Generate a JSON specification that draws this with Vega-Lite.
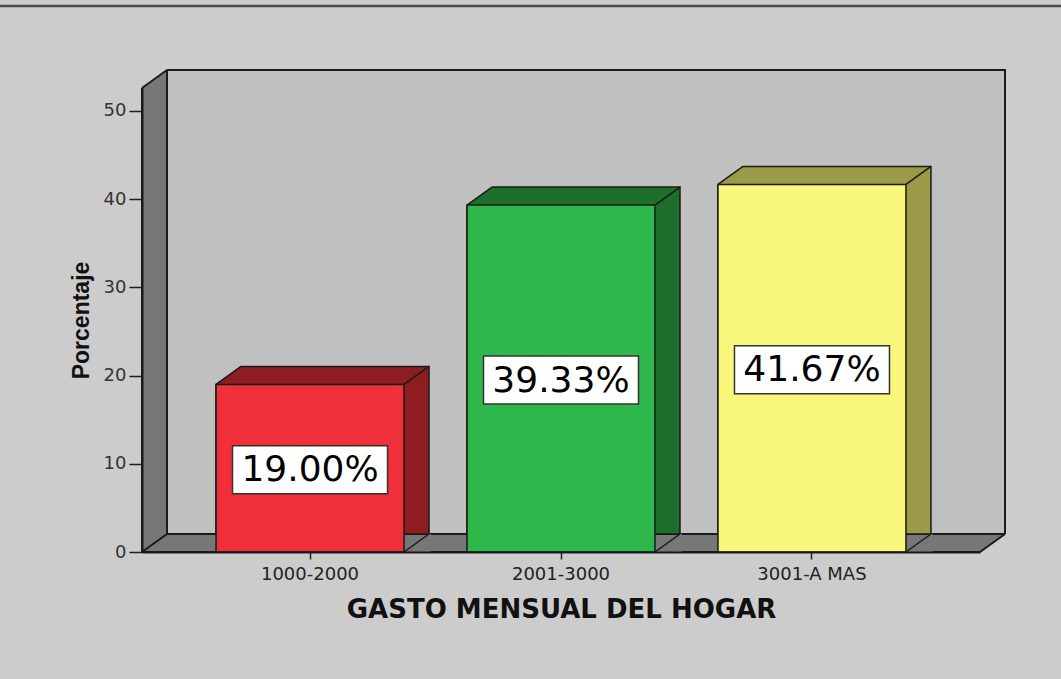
{
  "$schema": "https://vega.github.io/schema/vega-lite/v6.json",
  "width": 838,
  "height": 464,
  "autosize": "none",
  "padding": {"left": 142, "top": 88, "right": 81, "bottom": 127},
  "background": "#cccccc",
  "config": {"view": {"stroke": null}, "axis": {"grid": false}, "axisX": {"labelAngle": 0, "labelAlign": "center", "labelBaseline": "top"}},
  "data": {"values": [
    {"gasto": "1000-2000", "pct": 19.00, "label": "19.00%"},
    {"gasto": "2001-3000", "pct": 39.33, "label": "39.33%"},
    {"gasto": "3001-A MAS", "pct": 41.67, "label": "41.67%"}
  ]},
  "resolve": {"scale": {"y": "independent", "fill": "independent"}},
  "layer": [
    {
      "data": {"values": [{}]},
      "mark": {"type": "rule", "stroke": "#4d4d4d", "strokeWidth": 2.5, "xOffset": -142, "x2Offset": 81},
      "encoding": {
        "x": {"value": 0}, "x2": {"value": "width"},
        "y": {"datum": 61.9, "type": "quantitative", "scale": {"domain": [0, 52.6], "nice": false, "zero": false}, "axis": null}
      }
    },
    {
      "data": {"values": [{}]},
      "mark": {"type": "rect", "fill": "#777777", "stroke": "#1a1a1a", "strokeWidth": 2, "x2Offset": 25, "yOffset": -18},
      "encoding": {
        "x": {"value": 0}, "x2": {"value": "width"},
        "y": {"datum": 52.6, "type": "quantitative", "scale": {"domain": [0, 52.6], "nice": false, "zero": false}, "axis": null},
        "y2": {"datum": 0}
      }
    },
    {
      "data": {"values": [{}]},
      "mark": {"type": "rect", "fill": "#c0c0c0", "stroke": "#1a1a1a", "strokeWidth": 2, "xOffset": 25, "x2Offset": 25, "yOffset": -18, "y2Offset": -18},
      "encoding": {
        "x": {"value": 0}, "x2": {"value": "width"},
        "y": {"datum": 52.6, "type": "quantitative", "scale": {"domain": [0, 52.6], "nice": false, "zero": false}, "axis": null},
        "y2": {"datum": 0}
      }
    },
    {
      "data": {"values": [{}]},
      "mark": {"type": "point", "shape": "M-1,0.72L1,-0.72L1,-0.86L-1.14,-0.86L-1.14,0.72Z", "size": 625, "filled": true, "fill": "#cccccc", "strokeWidth": 0, "opacity": 1, "xOffset": 12.5, "yOffset": -9},
      "encoding": {
        "x": {"value": 0},
        "y": {"datum": 52.6, "type": "quantitative", "scale": {"domain": [0, 52.6], "nice": false, "zero": false}, "axis": null}
      }
    },
    {
      "data": {"values": [{}]},
      "mark": {"type": "point", "shape": "M1,-0.72L-1,0.72L-1,0.86L1.14,0.86L1.14,-0.72Z", "size": 625, "filled": true, "fill": "#cccccc", "strokeWidth": 0, "opacity": 1, "xOffset": 12.5, "yOffset": -9},
      "encoding": {
        "x": {"value": "width"},
        "y": {"datum": 0, "type": "quantitative", "scale": {"domain": [0, 52.6], "nice": false, "zero": false}, "axis": null}
      }
    },
    {
      "data": {"values": [{}]},
      "mark": {"type": "point", "shape": "M-1,0.72L1,-0.72", "size": 625, "filled": false, "stroke": "#1a1a1a", "strokeWidth": 2, "opacity": 1, "xOffset": 12.5, "yOffset": -9},
      "encoding": {
        "x": {"value": 0},
        "y": {"datum": 52.6, "type": "quantitative", "scale": {"domain": [0, 52.6], "nice": false, "zero": false}, "axis": null}
      }
    },
    {
      "data": {"values": [{}]},
      "mark": {"type": "point", "shape": "M-1,0.72L1,-0.72", "size": 625, "filled": false, "stroke": "#1a1a1a", "strokeWidth": 2, "opacity": 1, "xOffset": 12.5, "yOffset": -9},
      "encoding": {
        "x": {"value": 0},
        "y": {"datum": 0, "type": "quantitative", "scale": {"domain": [0, 52.6], "nice": false, "zero": false}, "axis": null}
      }
    },
    {
      "data": {"values": [{}]},
      "mark": {"type": "point", "shape": "M-1,0.72L1,-0.72", "size": 625, "filled": false, "stroke": "#1a1a1a", "strokeWidth": 2, "opacity": 1, "xOffset": 12.5, "yOffset": -9},
      "encoding": {
        "x": {"value": "width"},
        "y": {"datum": 0, "type": "quantitative", "scale": {"domain": [0, 52.6], "nice": false, "zero": false}, "axis": null}
      }
    },
    {
      "mark": {"type": "bar", "width": 213, "xOffset": 12.5, "yOffset": -18, "stroke": "#1a1a1a", "strokeWidth": 1.5},
      "encoding": {
        "x": {"field": "gasto", "type": "nominal", "scale": {"paddingInner": 0.251, "paddingOuter": 0.295}, "axis": {"title": "GASTO MENSUAL DEL HOGAR", "labelAngle": 0, "labelAlign": "center", "labelBaseline": "top", "labelFont": "DejaVu Sans", "labelFontSize": 18, "labelColor": "#222222", "tickColor": "#222222", "tickSize": 7, "tickWidth": 1.5, "domainColor": "#1a1a1a", "domainWidth": 2, "labelPadding": 6, "titleFont": "DejaVu Sans", "titleFontWeight": "bold", "titleFontSize": 26, "titleColor": "#111111", "titlePadding": 13, "zindex": 1}},
        "y": {"field": "pct", "type": "quantitative", "scale": {"domain": [0, 52.6], "nice": false, "zero": false}, "axis": null},
        "fill": {"field": "gasto", "type": "nominal", "scale": {"range": ["#8e1d21", "#1e6e2c", "#9b9a48"]}, "legend": null}
      }
    },
    {
      "mark": {"type": "point", "shape": "M-1,0.72L1,-0.72L1,-0.86L-1.14,-0.86L-1.14,0.72Z", "size": 625, "filled": true, "fill": "#c0c0c0", "strokeWidth": 0, "opacity": 1, "xOffset": -81.5, "yOffset": -9},
      "encoding": {
        "x": {"field": "gasto", "type": "nominal"},
        "y": {"field": "pct", "type": "quantitative", "scale": {"domain": [0, 52.6], "nice": false, "zero": false}, "axis": null}
      }
    },
    {
      "mark": {"type": "point", "shape": "M1,-0.72L-1,0.72L1.14,0.72L1.14,-0.72Z", "size": 625, "filled": true, "fill": "#777777", "strokeWidth": 0, "opacity": 1, "xOffset": 106.5, "yOffset": -9},
      "encoding": {
        "x": {"field": "gasto", "type": "nominal"},
        "y": {"datum": 0, "type": "quantitative", "scale": {"domain": [0, 52.6], "nice": false, "zero": false}, "axis": null}
      }
    },
    {
      "mark": {"type": "point", "shape": "M-1,0.72L1,-0.72", "size": 625, "filled": false, "stroke": "#1a1a1a", "strokeWidth": 1.5, "opacity": 1, "xOffset": -81.5, "yOffset": -9},
      "encoding": {
        "x": {"field": "gasto", "type": "nominal"},
        "y": {"field": "pct", "type": "quantitative", "scale": {"domain": [0, 52.6], "nice": false, "zero": false}, "axis": null}
      }
    },
    {
      "mark": {"type": "point", "shape": "M-1,0.72L1,-0.72", "size": 625, "filled": false, "stroke": "#1a1a1a", "strokeWidth": 1.5, "opacity": 1, "xOffset": 106.5, "yOffset": -9},
      "encoding": {
        "x": {"field": "gasto", "type": "nominal"},
        "y": {"field": "pct", "type": "quantitative", "scale": {"domain": [0, 52.6], "nice": false, "zero": false}, "axis": null}
      }
    },
    {
      "mark": {"type": "point", "shape": "M-1,0.72L1,-0.72", "size": 625, "filled": false, "stroke": "#1a1a1a", "strokeWidth": 1.5, "opacity": 1, "xOffset": 106.5, "yOffset": -9},
      "encoding": {
        "x": {"field": "gasto", "type": "nominal"},
        "y": {"datum": 0, "type": "quantitative", "scale": {"domain": [0, 52.6], "nice": false, "zero": false}, "axis": null}
      }
    },
    {
      "mark": {"type": "bar", "stroke": "#1a1a1a", "strokeWidth": 1.5},
      "encoding": {
        "x": {"field": "gasto", "type": "nominal", "axis": {"title": "GASTO MENSUAL DEL HOGAR", "labelAngle": 0, "labelAlign": "center", "labelBaseline": "top", "labelFont": "DejaVu Sans", "labelFontSize": 18, "labelColor": "#222222", "tickColor": "#222222", "tickSize": 7, "tickWidth": 1.5, "domainColor": "#1a1a1a", "domainWidth": 2, "labelPadding": 6, "titleFont": "DejaVu Sans", "titleFontWeight": "bold", "titleFontSize": 26, "titleColor": "#111111", "titlePadding": 13, "zindex": 1}},
        "y": {"field": "pct", "type": "quantitative", "scale": {"domain": [0, 52.6], "nice": false, "zero": false}, "axis": {"values": [0, 10, 20, 30, 40, 50], "title": "Porcentaje", "labelFont": "DejaVu Sans", "labelFontSize": 18, "labelColor": "#333333", "tickColor": "#222222", "tickSize": 13, "tickWidth": 1.5, "domainColor": "#1a1a1a", "domainWidth": 2, "labelPadding": 3, "titleFont": "Liberation Sans", "titleFontWeight": "bold", "titleFontSize": 23, "titleColor": "#111111", "titlePadding": 10, "zindex": 1}},
        "fill": {"field": "gasto", "type": "nominal", "scale": {"range": ["#ef3039", "#2eb84b", "#f9f77a"]}, "legend": null}
      }
    },
    {
      "mark": {"type": "point", "shape": "M-1,-0.31L1,-0.31L1,0.31L-1,0.31Z", "size": 24025, "filled": true, "fill": "#ffffff", "stroke": "#333333", "strokeWidth": 1.5, "opacity": 1, "yOffset": 1.5},
      "encoding": {
        "x": {"field": "gasto", "type": "nominal"},
        "y": {"field": "pct", "type": "quantitative", "scale": {"domain": [0, 105.2], "nice": false, "zero": false}, "axis": null}
      }
    },
    {
      "mark": {"type": "text", "font": "DejaVu Sans", "fontSize": 36, "color": "#000000", "align": "center", "baseline": "middle", "yOffset": 2},
      "encoding": {
        "x": {"field": "gasto", "type": "nominal"},
        "y": {"field": "pct", "type": "quantitative", "scale": {"domain": [0, 105.2], "nice": false, "zero": false}, "axis": null},
        "text": {"field": "label", "type": "nominal"}
      }
    }
  ]
}
